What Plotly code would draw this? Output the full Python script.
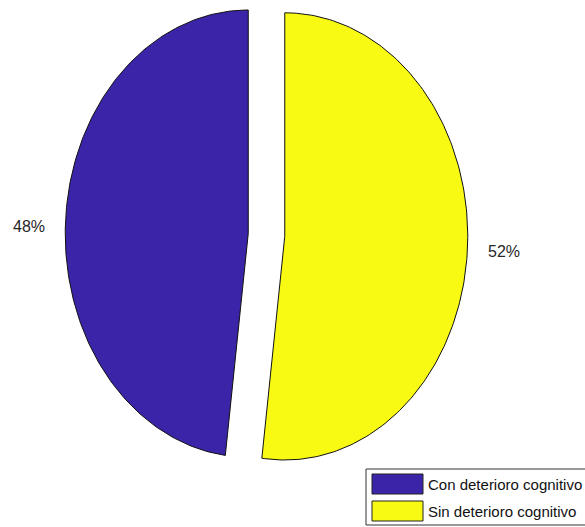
import numpy as np
import plotly.graph_objects as go

# Data
categories = ["Con deterioro cognitivo", "Sin deterioro cognitivo"]
values = [48, 52]
pct_labels = ["48%", "52%"]
colors = ["#3b24a8", "#f8fa14"]

W, H = 585, 527
explode = 0.1
label_yshift = [-8, 0]

fig = go.Figure()
total = sum(values)
start = 90.0
for i, (cat, v, lab, col) in enumerate(zip(categories, values, pct_labels, colors)):
    span = 360.0 * v / total
    t = np.radians(np.linspace(start, start + span, 200))
    mid = np.radians(start + span / 2)
    cx, cy = explode * np.cos(mid), explode * np.sin(mid)
    xs = np.concatenate([[cx], cx + np.cos(t), [cx]])
    ys = np.concatenate([[cy], cy + np.sin(t), [cy]])
    fig.add_trace(go.Scatter(x=xs, y=ys, mode="lines", fill="toself",
                             fillcolor=col, line=dict(color="#111111", width=1),
                             name=cat, showlegend=False, hoverinfo="skip"))
    lx, ly = cx + 1.1 * np.cos(mid), cy + 1.1 * np.sin(mid)
    fig.add_annotation(x=lx, y=ly, text=lab, showarrow=False,
                       xanchor="right" if np.cos(mid) < 0 else "left",
                       yanchor="middle", yshift=label_yshift[i],
                       font=dict(family="Liberation Sans, Arial", size=16, color="#262626"))
    start += span

# manual legend (MATLAB style)
def px(x):
    return x / W

def py(y):
    return 1 - y / H

fig.add_shape(type="rect", xref="paper", yref="paper",
              x0=px(366), x1=px(592), y0=py(525), y1=py(469),
              line=dict(color="#333333", width=1), fillcolor="white")
for i, (cat, col) in enumerate(zip(categories, colors)):
    top = 474 + i * 27
    fig.add_shape(type="rect", xref="paper", yref="paper",
                  x0=px(372), x1=px(423), y0=py(top + 20), y1=py(top),
                  line=dict(color="#222222", width=1), fillcolor=col)
    fig.add_annotation(xref="paper", yref="paper", x=px(426), y=py(top + 10),
                       text=cat, showarrow=False, xanchor="left", yanchor="middle",
                       font=dict(family="Liberation Sans, Arial", size=15, color="#111111"))

Rx, Ry = 183.0, 223.6
cxp, cyp = 266.5, 235.0
fig.update_xaxes(range=[(0 - cxp) / Rx, (W - cxp) / Rx], visible=False, fixedrange=True)
fig.update_yaxes(range=[-(H - cyp) / Ry, cyp / Ry], visible=False, fixedrange=True)
fig.update_layout(width=W, height=H, margin=dict(l=0, r=0, t=0, b=0),
                  paper_bgcolor="white", plot_bgcolor="white", showlegend=False)

fig.write_html("out.html")
